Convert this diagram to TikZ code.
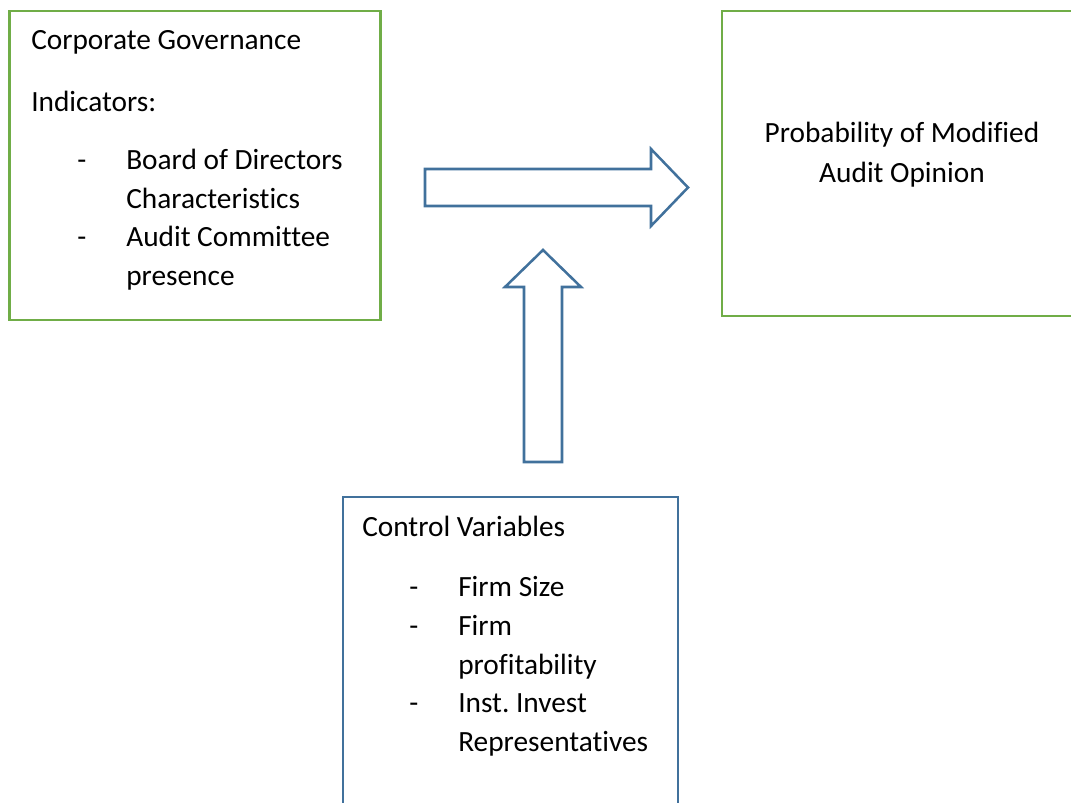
\documentclass[tikz,border=0pt]{standalone}
\usepackage{fontspec}
\setmainfont{Carlito}[Ligatures=CommonOff]
\usepackage{tikz}
\usetikzlibrary{positioning}
\frenchspacing

\definecolor{boxgreen}{RGB}{112,173,71}
\definecolor{arrowblue}{RGB}{65,113,156}

\begin{document}
\begin{tikzpicture}[x=0.75pt,y=-0.75pt,
                font=\fontsize{22pt}{29pt}\selectfont,
                frame/.style={rectangle, draw=boxgreen, line width=1.9pt, inner sep=0pt},
                ctrlframe/.style={rectangle, draw=arrowblue, line width=1.9pt, inner sep=0pt},
                txt/.style={inner sep=0pt, anchor=base west},
                blockarrow/.style={draw=arrowblue, line width=1.9pt, fill=white, line join=miter}
            ]
            \useasboundingbox (0,0) rectangle (1071,803);
            \clip (0,0) rectangle (1071,803);

            % the three boxes
            \node[frame, minimum width=278.25pt, minimum height=231.75pt] (govbox) at (195,165.5) {};
            \node[frame, minimum width=270pt, minimum height=228.75pt] (opinionbox) at (902,163.5) {};
            \node[ctrlframe, minimum width=251.25pt, minimum height=262.5pt] (controlbox) at (510.5,672) {};

            % corporate governance side
            \node[txt] (govtitle) at (31,49.5) {Corporate Governance};
            \node[txt] (govind) at (31,111.5) {Indicators:};
            \node[txt] (dashA) at (77,169.5) {-};
            \node[txt] (boardA) at (126,169.5) {Board of Directors};
            \node[txt] (boardB) at (126,208.2) {Characteristics};
            \node[txt] (dashB) at (77,246.9) {-};
            \node[txt] (auditA) at (126,246.9) {Audit Committee};
            \node[txt] (auditB) at (126,285.6) {presence};

            % outcome
            \node[inner sep=0pt, anchor=base] (probA) at (902,142.5) {Probability of Modified};
            \node[inner sep=0pt, anchor=base] (probB) at (902,182.5) {Audit Opinion};

            % controls
            \node[txt] (ctrltitle) at (362,536.5) {Control Variables};
            \node[txt] (dashC) at (409,596.5) {-};
            \node[txt] (sizeA) at (458,596.5) {Firm Size};
            \node[txt] (dashD) at (409,635.5) {-};
            \node[txt] (profA) at (458,635.5) {Firm};
            \node[txt] (profB) at (458,674.5) {profitability};
            \node[txt] (dashE) at (409,712.5) {-};
            \node[txt] (instA) at (458,712.5) {Inst. Invest};
            \node[txt] (instB) at (458,751.5) {Representatives};

            % block arrows
            \path[blockarrow] (425,169) -- (651,169) -- (651,149) -- (688,187.5)
                -- (651,226) -- (651,206) -- (425,206) -- cycle;
            \path[blockarrow] (524,462) -- (524,287) -- (505,287) -- (543,250)
                -- (581,287) -- (562,287) -- (562,462) -- cycle;
        \end{tikzpicture}
\end{document}
